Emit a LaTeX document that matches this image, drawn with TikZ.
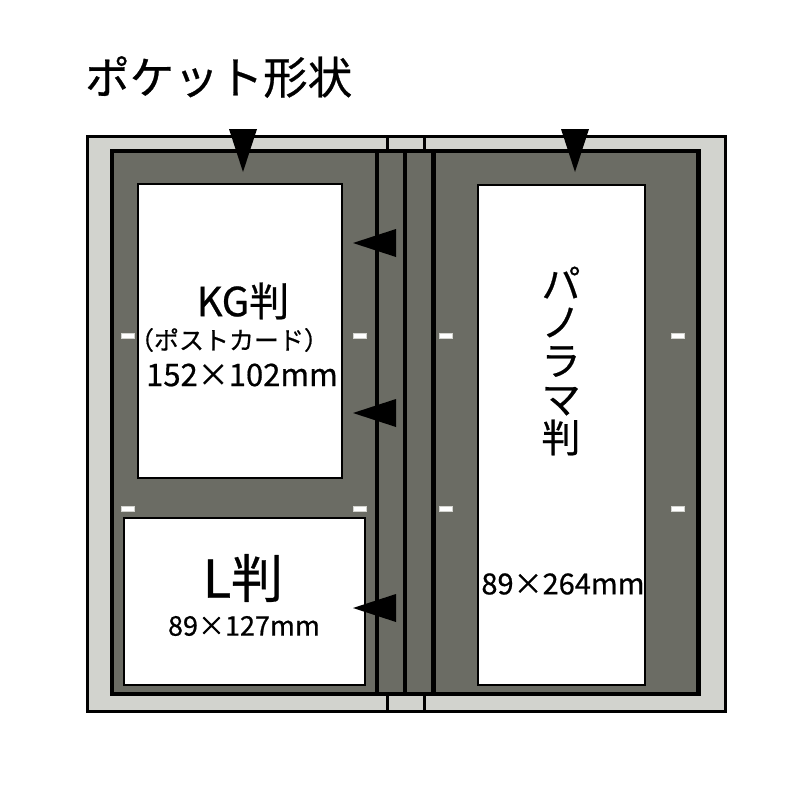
\documentclass[tikz,border=0pt]{standalone}
\usepackage{fontspec}
\setmainfont{Noto Sans CJK JP}[FakeBold=0.6]
\definecolor{lightg}{RGB}{210,211,206}
\definecolor{darkg}{RGB}{107,108,100}
\begin{document}
\begin{tikzpicture}[x=1pt,y=-1pt,
  cover/.style={draw=black,line width=3pt,fill=lightg},
  panel/.style={draw=black,line width=4.2pt,fill=darkg},
  pocket/.style={draw=black,line width=2.4pt,fill=white},
  slot/.style={fill=white,draw=lightg,line width=0.5pt},
  tri/.style={fill=black},
  lbl/.style={inner sep=0pt,anchor=center,text=black}]
\useasboundingbox (0,0) rectangle (800,800);
% covers
\draw[cover] (87,136) rectangle (387,711);
\draw[cover] (387,136) rectangle (424,711);
\draw[cover] (424,136) rectangle (725,711);
% panels
\draw[panel] (112,151) rectangle (377,694);
\draw[panel] (377,151) rectangle (405,694);
\draw[panel] (405,151) rectangle (433.5,694);
\draw[panel] (433.5,151) rectangle (698.5,694);
% pockets
\draw[pocket] (138,184) rectangle (342,478);
\draw[pocket] (124,518) rectangle (365,685);
\draw[pocket] (478,185) rectangle (645,685);
% slot marks
\foreach \x in {128,360,446,678}{
  \foreach \y in {336,509}{
    \draw[slot] (\x-6.5,\y-2.5) rectangle (\x+6.5,\y+2.5);
  }
}
% triangles
\fill[tri] (229,129) -- (257,129) -- (243,172) -- cycle;
\fill[tri] (561,129) -- (589,129) -- (575,172) -- cycle;
\fill[tri] (353,243) -- (396,229) -- (396,257) -- cycle;
\fill[tri] (353,413) -- (396,399) -- (396,427) -- cycle;
\fill[tri] (353,608) -- (396,594) -- (396,622) -- cycle;
% texts
\node[lbl,anchor=west,font=\fontsize{44.5}{44.5}\selectfont] (title) at (85,77) {ポケット形状};
\node[lbl,font=\fontsize{40}{40}\selectfont] (kg) at (243,301) {KG判};
\node[lbl,font=\fontsize{25}{25}\selectfont] (kgsub) at (229,340) {（ポストカード）};
\node[lbl,font=\fontsize{31}{31}\selectfont] (kgsize) at (242,375) {152×102mm};
\node[lbl,font=\fontsize{52}{52}\selectfont] (l) at (243,578) {L判};
\node[lbl,font=\fontsize{27}{27}\selectfont] (lsize) at (244,626) {89×127mm};
\node[lbl,align=center,font=\fontsize{39}{38.5}\selectfont] (pano) at (561,361) {パ\\ノ\\ラ\\マ\\判};
\node[lbl,font=\fontsize{29}{29}\selectfont] (panosize) at (563,584) {89×264mm};
\end{tikzpicture}
\end{document}
